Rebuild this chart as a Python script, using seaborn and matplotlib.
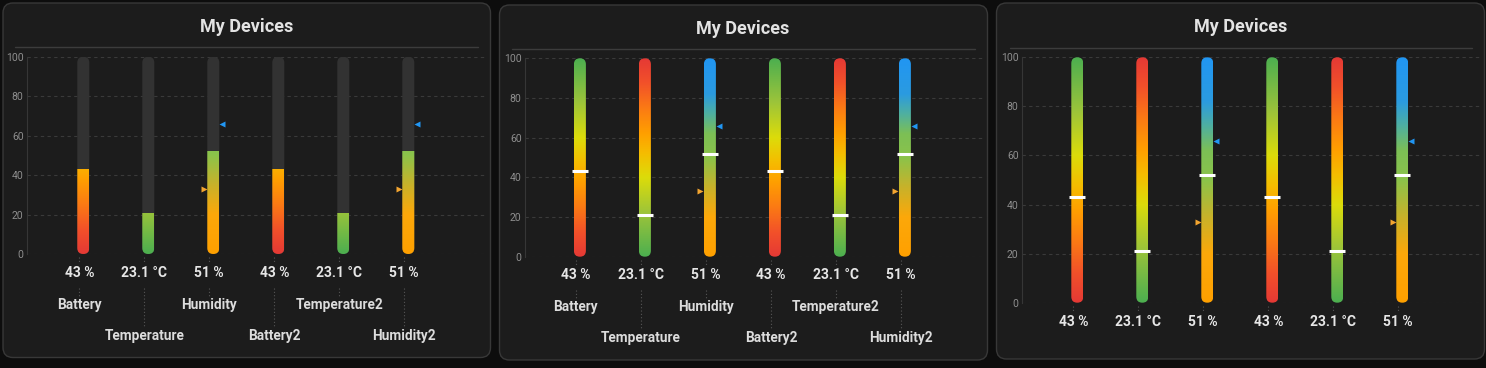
import numpy as np
import pandas as pd
import matplotlib
matplotlib.use("Agg")
import matplotlib.pyplot as plt
import seaborn as sns
from matplotlib.patches import FancyBboxPatch
from matplotlib.colors import LinearSegmentedColormap
from matplotlib.transforms import blended_transform_factory, Bbox, TransformedBbox, IdentityTransform
from matplotlib.lines import Line2D

# ---------------- data ----------------
title = "My Devices"
names = ["Battery", "Temperature", "Humidity", "Battery2", "Temperature2", "Humidity2"]
value_labels = ["43 %", "23.1 °C", "51 %", "43 %", "23.1 °C", "51 %"]
levels = [43, 21, 52, 43, 21, 52]
kinds = ["battery", "temperature", "humidity", "battery", "temperature", "humidity"]
high_marks = [None, None, 66, None, None, 66]
low_marks = [None, None, 33, None, None, 33]
y_ticks = [0, 20, 40, 60, 80, 100]

# ---------------- style ----------------
W, H = 1486, 368
sns.set_theme(style="dark")
plt.rcParams["font.family"] = ["Roboto", "DejaVu Sans"]

FIG_BG = "#0d0d0d"
PANEL_BG = "#1c1c1c"
PANEL_EDGE = "#383838"
GRID = "#3a3a3a"
TRACK = "#323232"

battery_stops = [(0.0, "#e53935"), (0.12, "#f2502a"), (0.25, "#fb7a14"), (0.38, "#ffa000"),
                 (0.48, "#f5bd00"), (0.6, "#dcdc0a"), (0.78, "#9cc43a"), (1.0, "#4caf50")]
cmaps = {
    "battery": LinearSegmentedColormap.from_list("bat", battery_stops),
    "temperature": LinearSegmentedColormap.from_list(
        "tmp", [(1 - p, c) for p, c in reversed(battery_stops)]),
    "humidity": LinearSegmentedColormap.from_list(
        "hum", [(0.0, "#ffa000"), (0.2, "#fca80a"), (0.35, "#c8b22a"), (0.5, "#8bc34a"),
                (0.62, "#7cbf55"), (0.72, "#4fb0a0"), (0.82, "#2b9be0"), (1.0, "#2196f3")]),
}

fig = plt.figure(figsize=(W / 100, H / 100), dpi=100, facecolor=FIG_BG)


def fx(px):
    return px / W


def fy(py):
    return 1 - py / H


panels = [
    dict(box=(3, 3, 490.5, 357.5), title_xy=(246.5, 27), sep=(15, 478, 47),
         L=27, R=487, top=56.7, bot=254, c0=79.3, val_y=273, rows=(305, 336), style="fill"),
    dict(box=(499.5, 5, 987.5, 360), title_xy=(743, 29), sep=(512, 975, 49),
         L=525, R=984, top=58.3, bot=256.7, c0=575.9, val_y=275, rows=(307, 338), style="gradient"),
    dict(box=(996.5, 3, 1484.5, 359), title_xy=(1241, 27), sep=(1010, 1472, 48),
         L=1022, R=1481, top=57.3, bot=302.7, c0=1073.3, val_y=321.5, rows=None, style="gradient"),
]

SPACING = 65.0
BW = 12 / SPACING
SHIFT = 4 / SPACING

df = pd.DataFrame({"name": names, "level": levels})

for P in panels:
    x0p, y0p, x1p, y1p = P["box"]
    panel = FancyBboxPatch((x0p, H - y1p), x1p - x0p, y1p - y0p,
                           boxstyle="round,pad=0,rounding_size=10",
                           transform=IdentityTransform(), facecolor=PANEL_BG,
                           edgecolor=PANEL_EDGE, linewidth=1, zorder=-5)
    fig.add_artist(panel)
    fig.text(fx(P["title_xy"][0]), fy(P["title_xy"][1]), title, ha="center", va="center",
             fontsize=13, fontweight="bold", color="#e3e3e3")
    sx0, sx1, sy = P["sep"]
    fig.add_artist(Line2D([fx(sx0), fx(sx1)], [fy(sy), fy(sy)], transform=fig.transFigure,
                          color="#3c3c3c", lw=1))

    L, R, top, bot, c0 = P["L"], P["R"], P["top"], P["bot"], P["c0"]
    ax = fig.add_axes([fx(L), fy(bot), (R - L) / W, (bot - top) / H])
    ax.set_facecolor("none")

    sns.barplot(data=df, x="name", y="level", ax=ax, width=BW, color=TRACK, saturation=1)
    bars = list(ax.patches)

    xlim = ((L - c0) / SPACING, (R - c0) / SPACING)
    ax.set_xlim(*xlim)
    ax.set_ylim(0, 100)
    px_x = 1 / SPACING
    px_y = 100 / (bot - top)
    asp = px_y / px_x
    r = BW / 2 * 0.999

    for i, b in enumerate(bars):
        b.set_visible(False)
        bx = b.get_x() + SHIFT
        xc = bx + BW / 2
        lvl = b.get_height()
        pill = FancyBboxPatch((bx, 0), BW, 100, boxstyle=f"round,pad=0,rounding_size={r}",
                              mutation_aspect=asp, transform=ax.transData,
                              facecolor=TRACK, edgecolor="none", zorder=2)
        if P["style"] == "fill":
            ax.add_patch(pill)
        grad = np.linspace(0, 1, 256).reshape(-1, 1)
        im = ax.imshow(grad, extent=[bx, bx + BW, 0, 100], origin="lower", aspect="auto",
                       cmap=cmaps[kinds[i]], interpolation="bilinear", zorder=3)
        clip = FancyBboxPatch((bx, 0), BW, 100, boxstyle=f"round,pad=0,rounding_size={r}",
                              mutation_aspect=asp, transform=ax.transData)
        im.set_clip_path(clip)
        if P["style"] == "fill":
            im.set_clip_box(TransformedBbox(Bbox([[bx - 1, -5], [bx + BW + 1, lvl]]), ax.transData))
        else:
            ax.hlines(lvl, xc - 8 * px_x, xc + 8 * px_x, colors="white", lw=2.2,
                      zorder=6, capstyle="butt")
        if high_marks[i] is not None:
            ax.plot([xc + 9 * px_x], [high_marks[i]], marker="<", ms=4.2, color="#2196f3",
                    mec="none", zorder=6, clip_on=False)
        if low_marks[i] is not None:
            ax.plot([xc - 9.5 * px_x], [low_marks[i]], marker=">", ms=4.2, color="#f3a530",
                    mec="none", zorder=6, clip_on=False)

    ax.set_xlim(*xlim)
    ax.set_ylim(0, 100)
    ax.set_autoscale_on(False)

    ax.set_yticks(y_ticks)
    ax.set_yticklabels([str(t) for t in y_ticks])
    ax.tick_params(axis="y", length=0, pad=2.5, labelsize=7.5, labelcolor="#8e8e8e")
    ax.set_xticks([])
    ax.set_xlabel("")
    ax.set_ylabel("")
    ax.set_axisbelow(True)
    ax.grid(False)
    ax.yaxis.grid(True, color=GRID, linestyle=(0, (3, 3)), linewidth=0.8)
    for s in ["top", "right", "bottom"]:
        ax.spines[s].set_visible(False)
    ax.spines["left"].set_visible(True)
    ax.spines["left"].set_color("#363636")
    ax.spines["left"].set_linewidth(0.8)

    blend = blended_transform_factory(ax.transData, fig.transFigure)
    for i in range(len(names)):
        ax.add_line(Line2D([i, i], [fy(bot + 3), fy(bot + 8)], transform=blend,
                           color="#555555", lw=0.8, linestyle=(0, (1, 2)), clip_on=False))
        ax.text(i, fy(P["val_y"]), value_labels[i], transform=blend, ha="center", va="center",
                fontsize=10, fontweight="bold", color="#e6e6e6")
        if P["rows"] is not None:
            row_y = P["rows"][i % 2]
            ax.add_line(Line2D([i, i], [fy(P["val_y"] + 15), fy(row_y - 8)], transform=blend,
                               color="#555555", lw=0.8, linestyle=(0, (1, 2)), clip_on=False))
            ax.text(i, fy(row_y), names[i], transform=blend, ha="center", va="center",
                    fontsize=9.8, fontweight="semibold", color="#dcdcdc")

fig.savefig("out.png", dpi=100, facecolor=FIG_BG)
